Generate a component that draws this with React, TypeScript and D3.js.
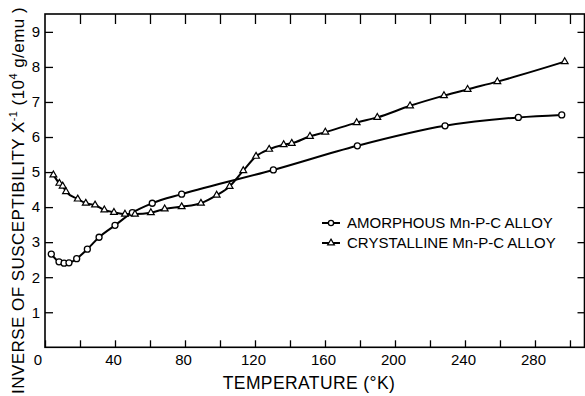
import React, {useEffect, useRef} from "react";
import * as d3 from "d3";

// amorphous Mn-P-C alloy (circles)
const amorphousT = [3.6, 8, 10.9, 13.7, 18.1, 24.2, 30.9, 40, 49.9, 61.3, 78.1, 130.5, 178.5, 228.6, 270.5, 295.3];
const amorphousV = [2.66, 2.44, 2.40, 2.41, 2.53, 2.80, 3.14, 3.48, 3.84, 4.11, 4.37, 5.06, 5.75, 6.32, 6.56, 6.63];

// crystalline Mn-P-C alloy (triangles)
const crystallineT = [4.8, 8.2, 10.1, 12.0, 18.7, 23.3, 28.6, 33.9, 39.4, 45.7, 51.4, 60.5, 68.4, 78.1, 89.1, 98.1, 105.5, 113.3, 120.6, 128.1, 136.4, 141.0, 151.4, 160.2, 178.1, 189.9, 208.6, 228.0, 241.5, 258.5, 297];
const crystallineV = [4.92, 4.68, 4.60, 4.44, 4.23, 4.11, 4.06, 3.92, 3.85, 3.80, 3.80, 3.84, 3.95, 4.01, 4.11, 4.34, 4.59, 5.04, 5.45, 5.65, 5.78, 5.82, 6.02, 6.14, 6.41, 6.56, 6.89, 7.18, 7.36, 7.58, 8.15];

const xTicks = [0, 20, 40, 60, 80, 100, 120, 140, 160, 180, 200, 220, 240, 260, 280, 300];
const xLabels = [0, 40, 80, 120, 160, 200, 240, 280];
const yTicks = [1, 2, 3, 4, 5, 6, 7, 8, 9];

const legendLabels = ["AMORPHOUS Mn-P-C ALLOY", "CRYSTALLINE Mn-P-C ALLOY"];

const App: React.FC = () => {
    const svgRef = useRef<SVGSVGElement>(null);
    const width = 585;
    const height = 396;
    const left = 45, right = 584.5, top = 14, bottom = 347.3;

    useEffect(() => {
        const svg = d3.select(svgRef.current);
        svg.selectAll("*").remove();
        const font = "'Liberation Sans', Arial, Helvetica, sans-serif";

        const x = d3.scaleLinear().domain([0, 308.3]).range([left, right]);
        const y = d3.scaleLinear().domain([0, 9.51]).range([bottom, top]);

        // bottom axis, ticks pointing inward
        const gx = svg.append("g")
            .attr("transform", `translate(0,${bottom})`)
            .call(d3.axisBottom(x).tickValues(xTicks).tickSizeInner(-7).tickSizeOuter(0).tickPadding(7)
                .tickFormat(d => xLabels.includes(+d) ? String(d) : ""));
        gx.select(".domain").remove();
        gx.selectAll("text").attr("font-size", 15).attr("font-family", font).attr("fill", "#000")
            .attr("dx", (d: any) => d === 0 ? -7.5 : -2);

        const gTop = svg.append("g")
            .attr("transform", `translate(0,${top})`)
            .call(d3.axisTop(x).tickValues(xTicks.slice(1)).tickSizeInner(-10).tickSizeOuter(0).tickFormat(() => ""));
        gTop.select(".domain").remove();

        const gy = svg.append("g")
            .attr("transform", `translate(${left},0)`)
            .call(d3.axisLeft(y).tickValues(yTicks).tickSizeInner(-8).tickSizeOuter(0).tickPadding(5)
                .tickFormat(d3.format("d")));
        gy.select(".domain").remove();
        gy.selectAll("text").attr("font-size", 15).attr("font-family", font).attr("fill", "#000");

        const gRight = svg.append("g")
            .attr("transform", `translate(${right},0)`)
            .call(d3.axisRight(y).tickValues(yTicks).tickSizeInner(-7).tickSizeOuter(0).tickFormat(() => ""));
        gRight.select(".domain").remove();

        svg.selectAll(".tick line").attr("stroke", "#000").attr("stroke-width", 1.3);

        // frame
        svg.append("rect")
            .attr("x", left).attr("y", top)
            .attr("width", right - left).attr("height", bottom - top)
            .attr("fill", "none").attr("stroke", "#000").attr("stroke-width", 1.6);

        const amPts = amorphousT.map((t, i) => [x(t), y(amorphousV[i])] as [number, number]);
        const crPts = crystallineT.map((t, i) => [x(t), y(crystallineV[i])] as [number, number]);

        const pathGen = d3.line().curve(d3.curveMonotoneX);
        svg.append("path").attr("d", pathGen(amPts)).attr("fill", "none").attr("stroke", "#000").attr("stroke-width", 2);
        svg.append("path").attr("d", pathGen(crPts)).attr("fill", "none").attr("stroke", "#000").attr("stroke-width", 2);

        const tri = d3.symbol(d3.symbolTriangle, 20);

        svg.append("g").selectAll("circle").data(amPts).join("circle")
            .attr("cx", d => d[0]).attr("cy", d => d[1]).attr("r", 3)
            .attr("fill", "#fff").attr("stroke", "#000").attr("stroke-width", 1.3);

        svg.append("g").selectAll("path").data(crPts).join("path")
            .attr("transform", d => `translate(${d[0]},${d[1]})`)
            .attr("d", tri())
            .attr("fill", "#fff").attr("stroke", "#000").attr("stroke-width", 1.2);

        // legend
        const lg = svg.append("g");
        legendLabels.forEach((label, i) => {
            const ly = 223 + i * 20;
            lg.append("line").attr("x1", 322).attr("x2", 340).attr("y1", ly).attr("y2", ly)
                .attr("stroke", "#000").attr("stroke-width", 2);
            if (i === 0) {
                lg.append("circle").attr("cx", 331).attr("cy", ly).attr("r", 2.6)
                    .attr("fill", "#fff").attr("stroke", "#000").attr("stroke-width", 1.3);
            } else {
                lg.append("path").attr("transform", `translate(331,${ly})`).attr("d", tri())
                    .attr("fill", "#fff").attr("stroke", "#000").attr("stroke-width", 1.2);
            }
            lg.append("text").attr("x", 347).attr("y", ly).attr("dy", "0.36em")
                .attr("font-size", 15).attr("font-family", font).attr("fill", "#000")
                .text(label);
        });

        // x title
        svg.append("text")
            .attr("x", 309).attr("y", 388.5)
            .attr("text-anchor", "middle")
            .attr("font-size", 17.5).attr("letter-spacing", 0.4)
            .attr("font-family", font).attr("fill", "#000")
            .text("TEMPERATURE (°K)");

        // y title, running almost the full height
        const yt = svg.append("text")
            .attr("transform", "translate(24,7) rotate(-90)")
            .attr("text-anchor", "end")
            .attr("font-size", 17).attr("letter-spacing", 0.45)
            .attr("font-family", font).attr("fill", "#000");
        yt.append("tspan").text("INVERSE OF SUSCEPTIBILITY X");
        yt.append("tspan").attr("dy", -7).attr("font-size", 11).text("-1");
        yt.append("tspan").attr("dy", 7).text(" (10");
        yt.append("tspan").attr("dy", -7).attr("font-size", 11).text("4");
        yt.append("tspan").attr("dy", 7).text(" g/emu )");
    }, []);

    return <svg ref={svgRef} width={width} height={height}
                style={{position: "absolute", left: 0, top: 0, background: "#fff"}}></svg>;
}

export default App;
